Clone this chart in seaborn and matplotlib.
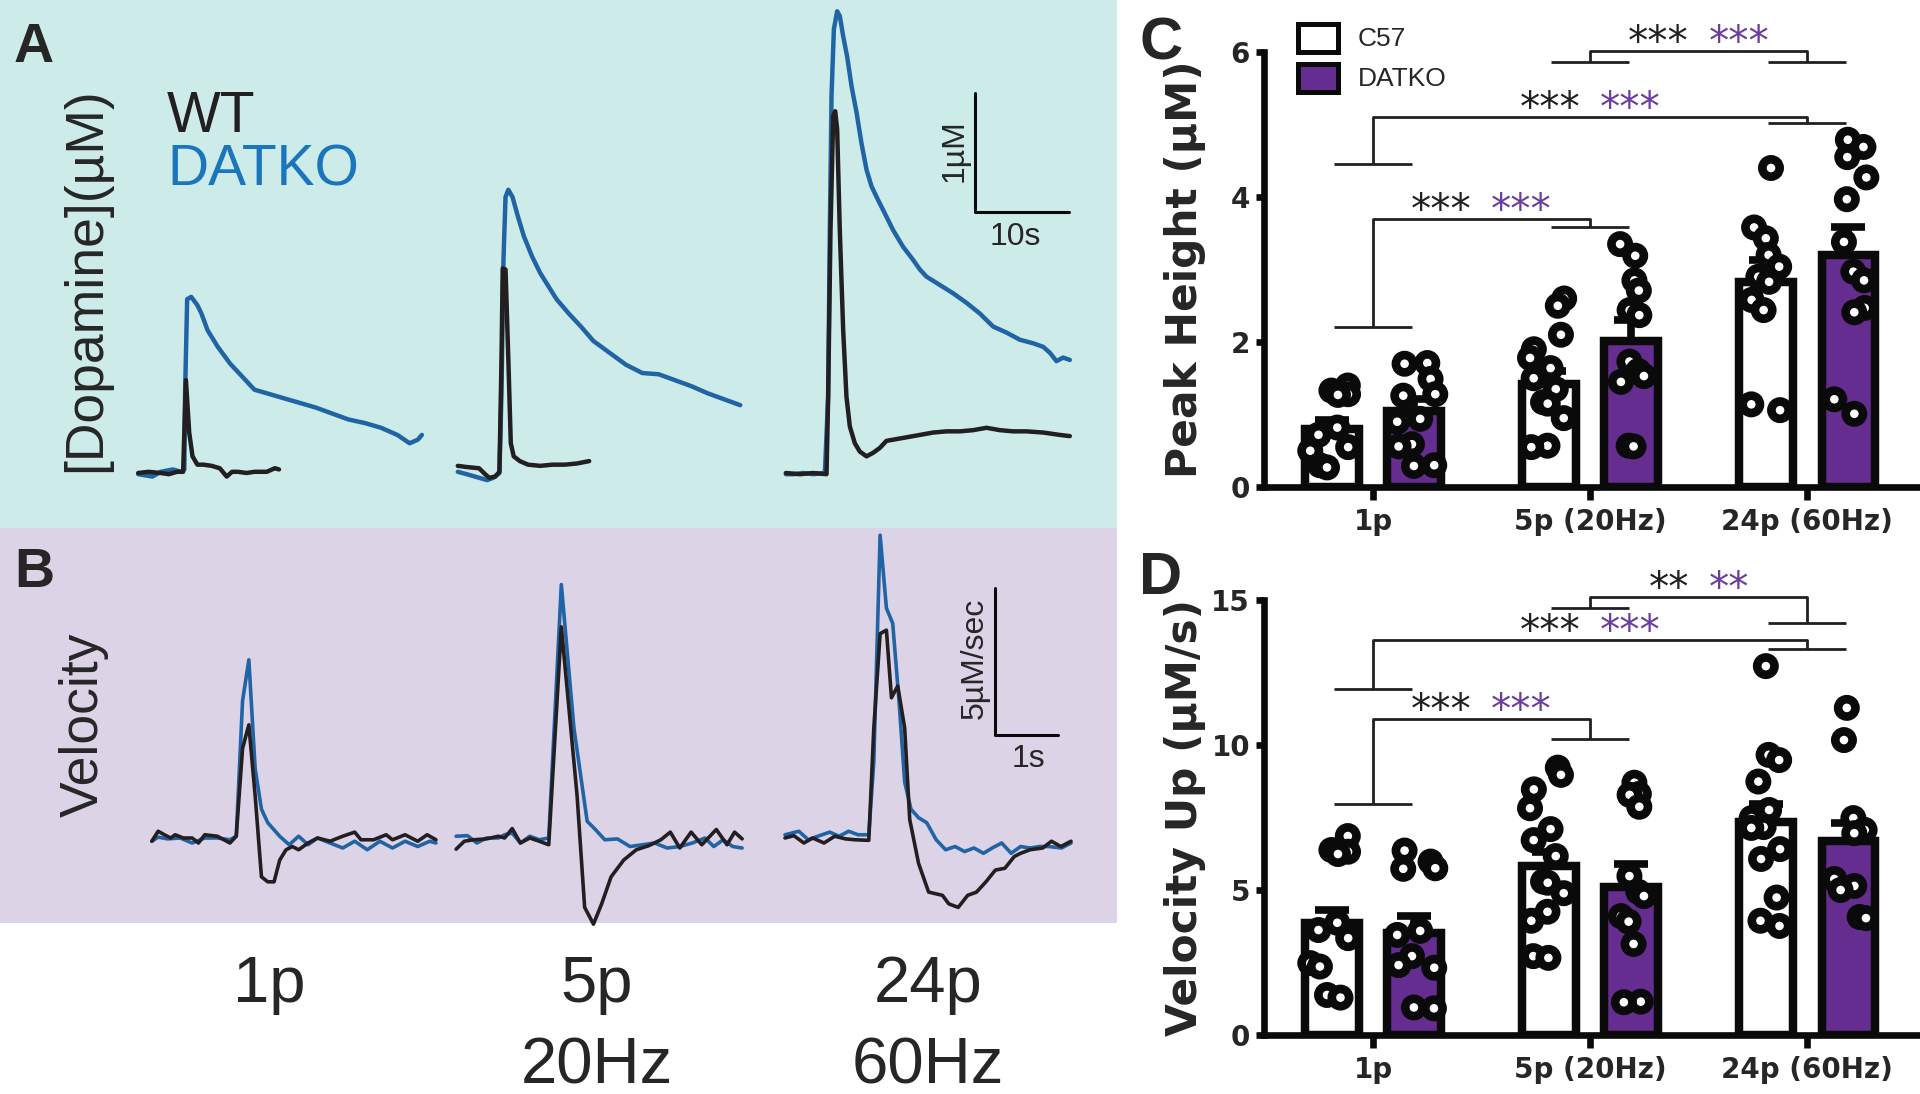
import numpy as np
import pandas as pd
import matplotlib
matplotlib.use("Agg")
import matplotlib.pyplot as plt
from matplotlib.patches import Rectangle
import seaborn as sns

# ---------------- data ----------------
stims = ["1p", "5p (20Hz)", "24p (60Hz)"]
genos = ["C57", "DATKO"]

# C: peak height (uM)
peak_mean_c57 = [0.80, 1.42, 2.83]
peak_mean_ko = [1.05, 2.01, 3.20]
peak_sem_c57 = [0.12, 0.18, 0.30]
peak_sem_ko = [0.16, 0.29, 0.39]
peak_pts_c57 = [[1.40, 1.33, 1.28, 1.27, 0.82, 0.72, 0.55, 0.50, 0.30, 0.27],
                [2.60, 2.50, 2.10, 1.90, 1.78, 1.64, 1.50, 1.35, 1.17, 1.15, 0.95, 0.57, 0.55],
                [4.40, 3.58, 3.43, 3.20, 3.04, 2.90, 2.83, 2.58, 2.44, 1.14, 1.06]]
peak_pts_ko = [[1.71, 1.70, 1.49, 1.28, 1.26, 0.94, 0.90, 0.59, 0.56, 0.30, 0.29],
               [3.35, 3.19, 2.85, 2.71, 2.44, 2.37, 1.73, 1.60, 1.53, 1.45, 0.57, 0.56],
               [4.79, 4.69, 4.55, 4.27, 3.97, 3.38, 2.97, 2.85, 2.47, 2.41, 1.21, 1.01]]

# D: velocity up (uM/s)
vel_mean_c57 = [3.86, 5.83, 7.34]
vel_mean_ko = [3.52, 5.10, 6.69]
vel_sem_c57 = [0.44, 0.47, 0.63]
vel_sem_ko = [0.58, 0.80, 0.61]
vel_pts_c57 = [[6.86, 6.38, 6.32, 6.24, 3.87, 3.62, 3.34, 2.48, 2.36, 1.38, 1.29],
               [9.22, 8.97, 8.47, 7.82, 7.10, 6.72, 6.17, 5.29, 5.25, 4.89, 4.25, 3.94, 2.72, 2.66],
               [12.72, 9.66, 9.48, 8.74, 7.76, 7.48, 7.17, 7.14, 6.41, 6.07, 4.74, 3.94, 3.76]]
vel_pts_ko = [[6.36, 5.98, 5.75, 5.73, 3.59, 3.45, 2.72, 2.41, 2.32, 0.95, 0.92],
              [8.70, 8.31, 8.28, 7.87, 5.48, 4.94, 4.79, 4.10, 3.91, 3.14, 1.15, 1.13],
              [11.28, 10.17, 7.48, 7.07, 7.07, 6.96, 5.38, 5.14, 5.00, 4.07, 4.03]]

# brackets: (group a, group b, foot a, foot b, top, stars)
peak_brackets = [(0, 1, 2.21, 3.59, 3.70, "***"),
                 (0, 2, 4.45, 5.02, 5.10, "***"),
                 (1, 2, 5.86, 5.86, 6.01, "***")]
vel_brackets = [(0, 1, 7.98, 10.20, 10.89, "***"),
                (0, 2, 11.92, 13.31, 13.63, "***"),
                (1, 2, 14.73, 14.21, 15.10, "**")]

# A: [dopamine] traces (s, uM)
a1_ko_t = [0, 1.52, 2.39, 3.69, 4.56, 4.91, 4.99, 5.21, 5.64, 6.30, 6.73, 7.38, 8.47, 9.77, 11.07, 12.37,
           13.68, 15.41, 17.15, 18.89, 20.62, 22.36, 24.10, 25.84, 27.57, 28.88, 29.75, 30.18]
a1_ko = [-0.01, -0.03, 0.01, 0.03, 0.01, 0.03, 0.67, 1.46, 1.48, 1.41, 1.34, 1.20, 1.06, 0.92, 0.81, 0.70,
         0.67, 0.63, 0.59, 0.55, 0.50, 0.45, 0.42, 0.38, 0.32, 0.25, 0.28, 0.32]
a1_wt_t = [0, 1.09, 2.39, 3.26, 4.13, 4.78, 5.08, 5.43, 5.78, 6.30, 6.95, 7.82, 8.68, 9.42, 9.99, 10.64,
           11.51, 12.37, 13.68, 14.54, 14.98]
a1_wt = [0, 0.01, 0, -0.01, 0.01, 0.01, 0.78, 0.34, 0.14, 0.07, 0.07, 0.06, 0.04, -0.03, 0.01, 0.01,
         0, 0.01, 0.01, 0.04, 0.03]
a2_ko_t = [0, 0.96, 2.26, 3.13, 3.78, 4.43, 4.65, 4.86, 5.08, 5.38, 5.82, 6.38, 7.03, 7.90, 8.77, 9.64,
           10.51, 11.81, 13.11, 14.42, 16.15, 17.89, 19.63, 21.36, 23.10, 24.84, 26.58, 28.31, 30.05]
a2_ko = [0.01, -0.01, -0.04, -0.06, -0.04, 0, 0.67, 1.79, 2.32, 2.38, 2.32, 2.16, 1.99, 1.82, 1.68, 1.57,
         1.46, 1.34, 1.23, 1.11, 1.01, 0.91, 0.84, 0.83, 0.78, 0.73, 0.67, 0.62, 0.57]
a2_wt_t = [0, 0.96, 2.26, 2.91, 3.34, 3.99, 4.43, 4.65, 4.78, 5.08, 5.38, 5.64, 5.95, 6.60, 7.47, 8.77,
           10.07, 11.38, 12.68, 13.98]
a2_wt = [0.06, 0.05, 0.04, -0.01, -0.04, -0.03, 0.01, 0.95, 1.72, 1.71, 0.95, 0.25, 0.14, 0.10, 0.07, 0.06,
         0.07, 0.07, 0.08, 0.10]
a3_ko_t = [0, 0.78, 1.84, 2.91, 4.15, 4.50, 4.68, 4.86, 5.11, 5.46, 5.74, 6.10, 6.52, 6.99, 7.52, 8.05,
           8.58, 9.11, 9.65, 10.35, 11.42, 12.48, 13.55, 14.26, 14.96, 16.38, 17.80, 19.22, 20.64, 22.06,
           23.48, 24.89, 26.31, 27.38, 28.09, 28.79, 29.50, 30.21]
a3_ko = [-0.01, -0.01, 0, -0.01, 0, 0.64, 2.04, 3.17, 3.73, 3.88, 3.84, 3.67, 3.50, 3.25, 3.03, 2.77,
         2.55, 2.41, 2.32, 2.21, 2.04, 1.90, 1.79, 1.71, 1.65, 1.58, 1.51, 1.43, 1.34, 1.23,
         1.18, 1.12, 1.09, 1.06, 1.01, 0.94, 0.97, 0.95]
a3_wt_t = [0, 1.49, 2.91, 4.33, 4.50, 4.75, 5.04, 5.25, 5.46, 5.74, 6.10, 6.45, 6.81, 7.34, 7.87, 8.58,
           9.29, 9.99, 10.70, 12.13, 14.26, 15.67, 17.09, 18.51, 19.93, 21.35, 22.77, 24.18, 25.60, 27.38,
           29.15, 30.21]
a3_wt = [0, -0.01, 0, -0.01, 0.64, 2.04, 3.00, 3.04, 2.89, 2.04, 1.20, 0.64, 0.39, 0.25, 0.18, 0.14,
         0.17, 0.21, 0.27, 0.29, 0.32, 0.34, 0.35, 0.35, 0.36, 0.38, 0.36, 0.35, 0.35, 0.34,
         0.32, 0.31]

# B: velocity traces (s, uM/s)
b1_ko_t = [0, 0.10, 0.25, 0.45, 0.64, 0.84, 1.04, 1.24, 1.34, 1.44, 1.54, 1.64, 1.74, 1.84, 2.03, 2.18,
           2.33, 2.48, 2.63, 2.83, 3.03, 3.22, 3.42, 3.62, 3.82, 4.02, 4.22, 4.41, 4.51]
b1_ko = [-0.11, 0.03, -0.03, 0, -0.17, 0, 0, -0.06, 0.06, 4.66, 6.06, 2.36, 0.98, 0.52, 0.06, -0.23,
         0.06, -0.23, 0, -0.17, -0.34, -0.11, -0.40, -0.11, -0.34, -0.11, -0.29, -0.11, -0.17]
b1_wt_t = [0, 0.10, 0.20, 0.30, 0.37, 0.50, 0.64, 0.74, 0.84, 1.04, 1.24, 1.34, 1.44, 1.54, 1.64, 1.74,
           1.84, 1.94, 2.03, 2.13, 2.23, 2.33, 2.48, 2.63, 2.83, 3.03, 3.22, 3.32, 3.52, 3.72, 3.82,
           4.02, 4.22, 4.37, 4.51]
b1_wt = [-0.11, 0.23, 0.11, 0, 0.11, 0, 0, -0.17, 0.11, 0.06, -0.17, 0.06, 3.05, 3.85, 1.44, -1.32,
         -1.49, -1.49, -0.75, -0.40, -0.29, -0.40, -0.17, 0, -0.11, 0.06, 0.20, -0.06, -0.06, 0.11, -0.06,
         0.11, -0.11, 0.11, -0.06]
b2_ko_t = [0, 0.18, 0.33, 0.48, 0.67, 0.77, 0.89, 1.02, 1.17, 1.32, 1.47, 1.67, 1.87, 2.08, 2.21, 2.36,
           2.56, 2.76, 2.96, 3.15, 3.35, 3.55, 3.75, 3.95, 4.09, 4.24, 4.39, 4.54]
b2_ko = [0.06, 0.08, -0.17, 0, 0, 0.11, 0.17, -0.17, 0.06, -0.06, 0, 8.62, 3.74, 0.57, 0.29, -0.06,
         -0.03, -0.29, -0.23, -0.17, -0.34, -0.29, -0.17, 0, -0.29, -0.06, -0.29, -0.34]
b2_wt_t = [0, 0.13, 0.28, 0.48, 0.67, 0.77, 0.89, 1.02, 1.17, 1.32, 1.47, 1.67, 1.92, 2.04, 2.18, 2.31,
           2.46, 2.66, 2.86, 3.06, 3.25, 3.40, 3.55, 3.73, 3.90, 4.13, 4.30, 4.42, 4.54]
b2_wt = [-0.38, -0.11, -0.06, -0.03, 0.06, 0, 0.32, -0.17, 0, -0.11, -0.23, 7.18, 1.44, -2.36, -2.93, -2.24,
         -1.32, -0.75, -0.40, -0.26, -0.06, 0.20, -0.34, 0.20, -0.23, 0.29, -0.23, 0.20, -0.03]
b3_ko_t = [0, 0.22, 0.37, 0.52, 0.71, 0.86, 1.01, 1.16, 1.33, 1.41, 1.51, 1.61, 1.71, 1.81, 1.90, 2.00,
           2.12, 2.25, 2.40, 2.55, 2.70, 2.85, 3.00, 3.15, 3.29, 3.44, 3.59, 3.74, 3.89, 4.04, 4.19,
           4.39, 4.54]
b3_ko = [0.11, 0.23, -0.06, 0.06, 0.20, 0.06, 0.23, 0.11, 0.11, 2.59, 10.3, 7.82, 7.30, 4.66, 1.90, 0.98,
         0.69, 0.52, -0.06, -0.40, -0.29, -0.46, -0.34, -0.52, -0.34, -0.17, -0.52, -0.29, -0.34, -0.29, -0.29,
         -0.34, -0.17]
b3_wt_t = [0, 0.14, 0.30, 0.44, 0.62, 0.79, 0.96, 1.11, 1.33, 1.41, 1.51, 1.61, 1.69, 1.79, 1.90, 1.98,
           2.12, 2.28, 2.40, 2.50, 2.60, 2.75, 2.90, 3.04, 3.19, 3.34, 3.49, 3.64, 3.74, 3.89, 4.09,
           4.23, 4.38, 4.54]
b3_wt = [0, 0.08, -0.17, 0, -0.17, 0.06, -0.03, -0.06, -0.08, 3.74, 6.95, 7.07, 4.77, 5.17, 3.74, 0.63,
         -0.86, -1.84, -1.90, -1.95, -2.24, -2.36, -1.95, -1.84, -1.49, -1.09, -1.03, -0.63, -0.52, -0.40, -0.34,
         -0.11, -0.29, -0.11]

# ---------------- style ----------------
INK = "#0a0a0a"
PURPLE = "#662d91"
STAR_PURPLE = "#6a3ea1"
BLUE = "#2064a5"
BLUE_TXT = "#1b75bc"
CYAN = "#cdebe9"
LAV = "#ddd3e7"
SANS = "Liberation Sans"

sns.set_style("ticks")
plt.rcParams["font.family"] = ["DejaVu Sans"]

W, H = 1920, 1094
fig = plt.figure(figsize=(19.2, 10.94), dpi=100)


def box(l, t, r, b):
    return [l / W, 1 - b / H, (r - l) / W, (b - t) / H]


# background + free text in pixel coords
bg = fig.add_axes([0, 0, 1, 1], zorder=0)
bg.set_xlim(0, W)
bg.set_ylim(H, 0)
bg.axis("off")
bg.add_patch(Rectangle((0, 0), 1117, 528, color=CYAN, lw=0))
bg.add_patch(Rectangle((0, 528), 1117, 395, color=LAV, lw=0))

bg.text(14, 62, "A", family=SANS, weight="bold", fontsize=40, va="baseline")
bg.text(14, 587, "B", family=SANS, weight="bold", fontsize=40, va="baseline")
bg.text(1139, 60, "C", family=SANS, weight="bold", fontsize=43, va="baseline")
bg.text(1139, 594, "D", family=SANS, weight="bold", fontsize=43, va="baseline")

bg.text(86, 280, "[Dopamine](µM)", family=SANS, fontsize=38.5, rotation=90, ha="center", va="center")
bg.text(84, 725, "Velocity", family=SANS, fontsize=38.5, rotation=90, ha="center", va="center")
bg.text(167, 132, "WT", family=SANS, fontsize=41, va="baseline", color="#231f20")
bg.text(167, 186, "DATKO", family=SANS, fontsize=41, va="baseline", color=BLUE_TXT)

bottom_lbl = [["1p"], ["5p", "20Hz"], ["24p", "60Hz"]]
for xc, lines in zip([269, 597, 928], bottom_lbl):
    for k, s in enumerate(lines):
        bg.text(xc, 1002 + 81 * k, s, family=SANS, fontsize=47, ha="center", va="baseline")

bg.text(955, 151, "1µM", family=SANS, fontsize=23, rotation=90, ha="center", va="center")
bg.text(1015, 245, "10s", family=SANS, fontsize=23, ha="center", va="baseline")
bg.text(975, 658, "5µM/sec", family=SANS, fontsize=23, rotation=90, ha="center", va="center")
bg.text(1028, 767, "1s", family=SANS, fontsize=23, ha="center", va="baseline")

# legend of C
bg.add_patch(Rectangle((1298, 24), 40, 28, facecolor="white", edgecolor=INK, lw=3.6))
bg.add_patch(Rectangle((1298, 64), 40, 28, facecolor=PURPLE, edgecolor=INK, lw=3.6))
bg.text(1358, 39, "C57", family=SANS, fontsize=19, va="center")
bg.text(1358, 79, "DATKO", family=SANS, fontsize=19, va="center")

# ---------------- A: dopamine traces ----------------
axA = fig.add_axes(box(0, 0, 1117, 528), zorder=1)
axA.patch.set_visible(False)
axA.set_xlim(0, 1117 / 9.4)
axA.set_ylim(-(528 - 473) / 119, 473 / 119)
axA.axis("off")
a_start = [14.7, 48.7, 83.6]
a_traces = [(a1_ko_t, a1_ko, a1_wt_t, a1_wt), (a2_ko_t, a2_ko, a2_wt_t, a2_wt), (a3_ko_t, a3_ko, a3_wt_t, a3_wt)]
for x0, (kt, kv, wt, wv) in zip(a_start, a_traces):
    axA.plot(np.array(kt) + x0, kv, color=BLUE, lw=3.2, solid_joinstyle="round")
    axA.plot(np.array(wt) + x0, wv, color="#231f20", lw=3.2, solid_joinstyle="round")
# scale bar 10 s x 1 uM
axA.plot([103.7, 103.7, 113.7], [3.19, 2.19, 2.19], color=INK, lw=2.2)

# ---------------- B: velocity traces ----------------
axB = fig.add_axes(box(0, 528, 1117, 923), zorder=1)
axB.patch.set_visible(False)
axB.set_xlim(0, 1117 / 63)
axB.set_ylim(-(923 - 838) / 29.4, (838 - 528) / 29.4)
axB.axis("off")
b_start = [2.41, 7.24, 12.46]
b_traces = [(b1_ko_t, b1_ko, b1_wt_t, b1_wt), (b2_ko_t, b2_ko, b2_wt_t, b2_wt), (b3_ko_t, b3_ko, b3_wt_t, b3_wt)]
for x0, (kt, kv, wt, wv) in zip(b_start, b_traces):
    axB.plot(np.array(kt) + x0, kv, color=BLUE, lw=2.6, clip_on=False)
    axB.plot(np.array(wt) + x0, wv, color="#231f20", lw=2.6, clip_on=False)
# scale bar 1 s x 5 uM/s
axB.plot([15.79, 15.79, 16.79], [8.50, 3.50, 3.50], color=INK, lw=2.2)


# ---------------- C / D: bars + dots ----------------
def bar_panel(ax, m_c57, m_ko, s_c57, s_ko, p_c57, p_ko, brackets, ymax, yticks, ylabel):
    bar_df = pd.DataFrame({"stim": stims * 2, "geno": ["C57"] * 3 + ["DATKO"] * 3,
                           "val": m_c57 + m_ko})
    rows = []
    for g, pts in (("C57", p_c57), ("DATKO", p_ko)):
        for s, vals in zip(stims, pts):
            rows += [(s, g, v) for v in vals]
    pts_df = pd.DataFrame(rows, columns=["stim", "geno", "val"])

    sns.barplot(data=bar_df, x="stim", y="val", hue="geno", order=stims, hue_order=genos,
                palette={"C57": "white", "DATKO": PURPLE}, saturation=1, width=0.76, gap=0.35,
                edgecolor=INK, linewidth=6.1, errorbar=None, legend=False, ax=ax)
    xs = np.arange(3)
    for off, m, s in ((-0.19, m_c57, s_c57), (0.19, m_ko, s_ko)):
        ax.errorbar(xs + off, m, yerr=[np.zeros(3), s], fmt="none", ecolor=INK,
                    elinewidth=5.5, capsize=12.5, capthick=5.5, zorder=3)
    np.random.seed(4)
    sns.stripplot(data=pts_df, x="stim", y="val", hue="geno", order=stims, hue_order=genos,
                  dodge=True, jitter=0.18, palette={"C57": "white", "DATKO": "white"},
                  edgecolor=INK, linewidth=6.2, size=12.5, legend=False, zorder=5, ax=ax)

    for a, b, fa, fb, top, stars in brackets:
        kw = dict(color="#231f20", lw=2.0, clip_on=False, solid_capstyle="butt")
        ax.plot([a - 0.18, a + 0.18], [fa, fa], **kw)
        ax.plot([b - 0.18, b + 0.18], [fb, fb], **kw)
        ax.plot([a, a, b, b], [fa, top, top, fb], **kw)
        mid = (a + b) / 2
        ax.annotate(stars, (mid, top), xytext=(-7, -3), textcoords="offset points", ha="right",
                    va="baseline", fontsize=29, color="#231f20", annotation_clip=False)
        ax.annotate(stars, (mid, top), xytext=(7, -3), textcoords="offset points", ha="left",
                    va="baseline", fontsize=29, color=STAR_PURPLE, annotation_clip=False)

    ax.set_xlim(-0.502, 2.52)
    ax.set_ylim(0, ymax)
    ax.set_yticks(yticks)
    ax.set_xlabel("")
    ax.set_ylabel(ylabel, fontsize=30.5, fontweight="bold")
    ax.yaxis.set_label_coords(-0.088, 0.5)
    sns.despine(ax=ax)
    for sp in ("left", "bottom"):
        ax.spines[sp].set_linewidth(4.8)
        ax.spines[sp].set_color(INK)
    ax.tick_params(axis="both", width=4.8, length=9, color=INK, labelsize=20)
    ax.tick_params(axis="y", length=6, pad=4)
    ax.tick_params(axis="x", pad=6)
    for lab in ax.get_xticklabels() + ax.get_yticklabels():
        lab.set_fontweight("bold")
    ax.patch.set_visible(False)


axC = fig.add_axes(box(1264, 52, 1920, 487), zorder=2)
bar_panel(axC, peak_mean_c57, peak_mean_ko, peak_sem_c57, peak_sem_ko, peak_pts_c57, peak_pts_ko,
          peak_brackets, 6, [0, 2, 4, 6], "Peak Height (µM)")

axD = fig.add_axes(box(1264, 600, 1920, 1035), zorder=2)
bar_panel(axD, vel_mean_c57, vel_mean_ko, vel_sem_c57, vel_sem_ko, vel_pts_c57, vel_pts_ko,
          vel_brackets, 15, [0, 5, 10, 15], "Velocity Up (µM/s)")

fig.savefig("out.png", dpi=100)
